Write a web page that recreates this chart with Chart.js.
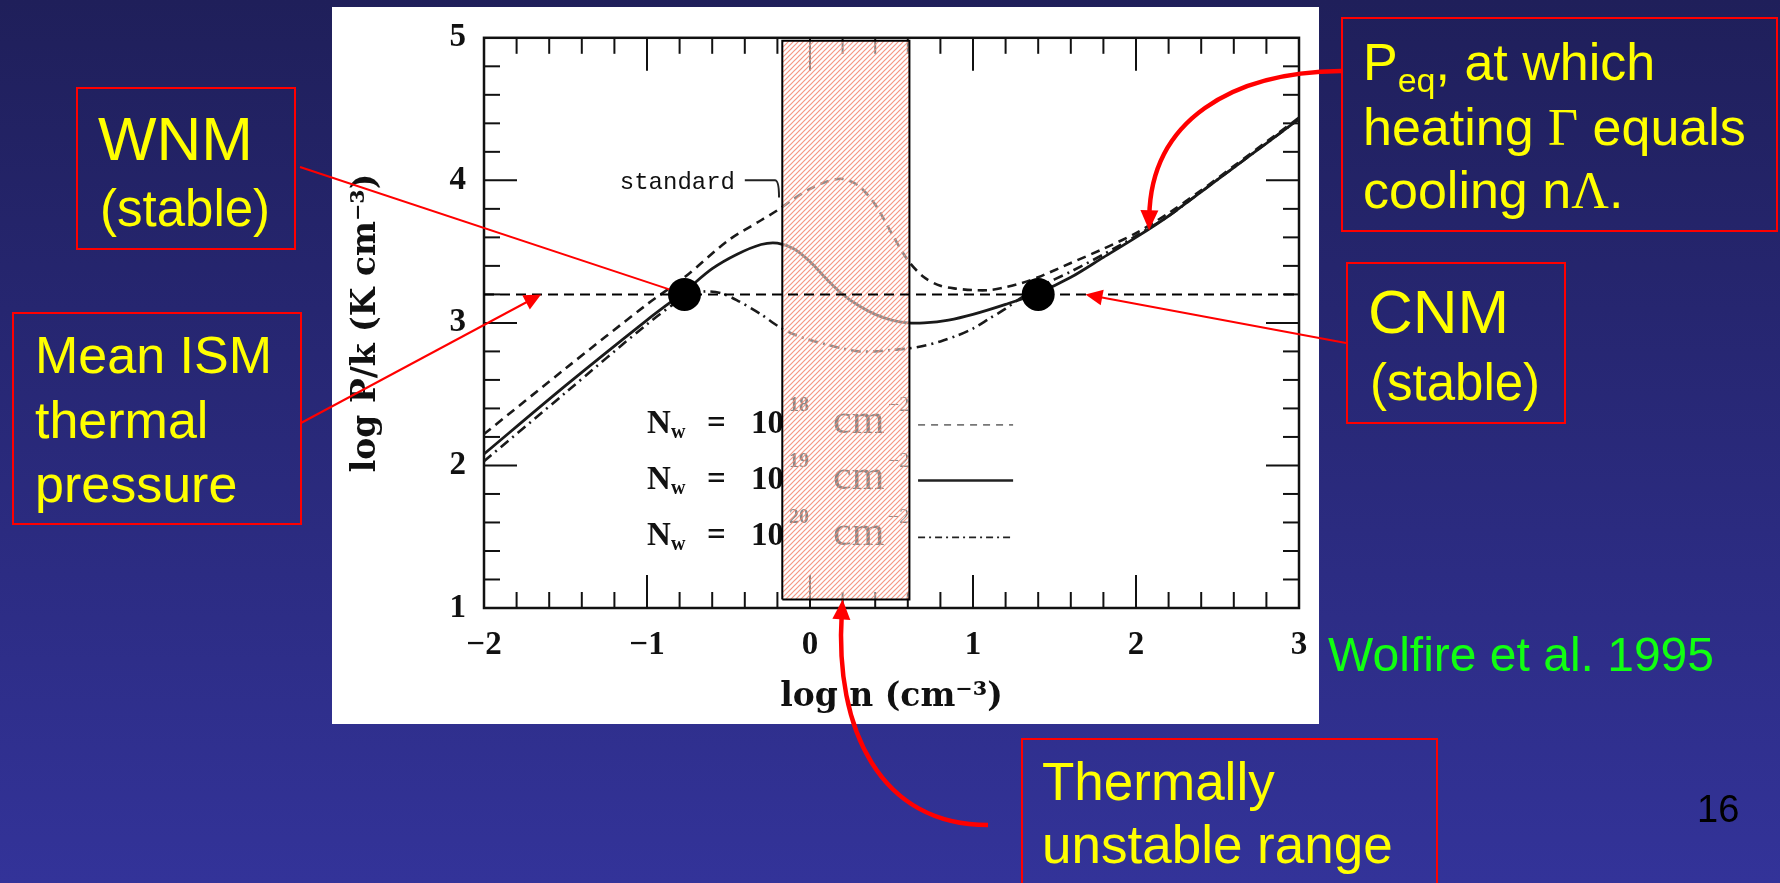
<!DOCTYPE html>
<html>
<head>
<meta charset="utf-8">
<script src="https://cdn.jsdelivr.net/npm/chart.js@4.4.1/dist/chart.umd.min.js"></script>
<style>
html, body { margin: 0; padding: 0; }
body {
    width: 1780px; height: 883px; overflow: hidden; position: relative;
    background: linear-gradient(#1f1f5a, #333399);
    font-family: "Liberation Sans", Arial, sans-serif;
}
#panel { position: absolute; left: 332px; top: 7px; width: 987px; height: 717px; background: #fff; }
#grafico { position: absolute; left: 0; top: 0; }
.box { position: absolute; border: 2px solid #f00; box-sizing: border-box; }
.t { position: absolute; color: #ff0; white-space: nowrap; line-height: 1; }
.gr { font-family: "Liberation Serif", "Times New Roman", serif; }
</style>
</head>
<body>
<div id="panel"></div>
<canvas id="grafico" width="1780" height="883"></canvas>

<div class="box" style="left:76px;top:87px;width:220px;height:163px"></div>
<div class="t" style="left:98px;top:108px;font-size:62px">WNM</div>
<div class="t" style="left:100px;top:183px;font-size:51px">(stable)</div>

<div class="box" style="left:12px;top:312px;width:290px;height:213px"></div>
<div class="t" style="left:35px;top:329px;font-size:52px">Mean ISM</div>
<div class="t" style="left:35px;top:394px;font-size:52px">thermal</div>
<div class="t" style="left:35px;top:458px;font-size:52px">pressure</div>

<div class="box" style="left:1341px;top:17px;width:437px;height:215px"></div>
<div class="t" style="left:1363px;top:36px;font-size:52px">P<span style="font-size:34px;position:relative;top:12px">eq</span>, at which</div>
<div class="t" style="left:1363px;top:101px;font-size:52px">heating <span class="gr">Γ</span> equals</div>
<div class="t" style="left:1363px;top:164px;font-size:52px">cooling n<span class="gr">Λ</span>.</div>

<div class="box" style="left:1346px;top:262px;width:220px;height:162px"></div>
<div class="t" style="left:1368px;top:281px;font-size:62px">CNM</div>
<div class="t" style="left:1370px;top:357px;font-size:51px">(stable)</div>

<div class="box" style="left:1021px;top:738px;width:417px;height:160px"></div>
<div class="t" style="left:1042px;top:755px;font-size:53px">Thermally</div>
<div class="t" style="left:1042px;top:818px;font-size:53px">unstable range</div>

<div class="t" style="left:1328px;top:631px;font-size:48px;color:#1f1">Wolfire et al. 1995</div>
<div class="t" style="left:1697px;top:790px;font-size:38px;color:#000">16</div>

<script>
// eixos
const X_MIN = -2, X_MAX = 3;
const Y_MIN = 1, Y_MAX = 5;

// N_w = 10^19 (linha cheia, "standard")
const solidX = [-2, -1.5, -1, -0.77, -0.6, -0.45, -0.3, -0.2, -0.1, 0, 0.1, 0.2, 0.3, 0.4, 0.5, 0.6, 0.7, 0.85, 1.0, 1.2, 1.4, 1.6, 1.8, 2.0, 2.2, 2.4, 2.6, 2.8, 3.0];
const solidY = [2.08, 2.56, 3.02, 3.22, 3.38, 3.48, 3.55, 3.56, 3.52, 3.43, 3.31, 3.20, 3.12, 3.06, 3.02, 3.00, 3.00, 3.02, 3.06, 3.13, 3.21, 3.32, 3.46, 3.60, 3.75, 3.92, 4.09, 4.26, 4.43];

// N_w = 10^18 (tracejada)
const dashX = [-2, -1.5, -1, -0.77, -0.5, -0.3, -0.2, -0.1, 0, 0.1, 0.2, 0.3, 0.4, 0.5, 0.6, 0.7, 0.8, 0.9, 1.0, 1.1, 1.2, 1.3, 1.4, 1.6, 1.8, 2.0, 2.2, 2.4, 2.6, 2.8, 3.0];
const dashY = [2.22, 2.68, 3.13, 3.32, 3.58, 3.72, 3.79, 3.87, 3.94, 3.99, 4.01, 3.96, 3.83, 3.63, 3.44, 3.32, 3.26, 3.24, 3.23, 3.23, 3.25, 3.28, 3.32, 3.42, 3.52, 3.63, 3.77, 3.93, 4.10, 4.27, 4.44];

// N_w = 10^20 (traço-ponto)
const ddX = [-2, -1.5, -1, -0.77, -0.65, -0.55, -0.45, -0.3, -0.2, -0.1, 0, 0.1, 0.2, 0.3, 0.4, 0.5, 0.6, 0.7, 0.8, 0.9, 1.0, 1.1, 1.2, 1.3, 1.4, 1.6, 1.8, 2.0, 2.2, 2.4, 2.6, 2.8, 3.0];
const ddY = [2.03, 2.51, 2.99, 3.18, 3.22, 3.21, 3.16, 3.06, 2.98, 2.92, 2.88, 2.85, 2.82, 2.80, 2.80, 2.81, 2.82, 2.84, 2.87, 2.91, 2.96, 3.03, 3.10, 3.18, 3.25, 3.36, 3.48, 3.61, 3.75, 3.92, 4.09, 4.26, 4.43];

// pressão média do ISM e os dois pontos estáveis
const meanP = 3.2;
const stableX = [-0.77, 1.4];

// faixa instável (hachurada)
const unstableX = [-0.17, 0.61];
const unstableY = [1.06, 4.98];

// legenda
const legendExp = ['18', '19', '20'];
const legendRowY = [2.229, 1.838, 1.44];

const pts = (xs, ys) => xs.map((x, i) => ({ x: x, y: ys[i] }));

function hachura() {
    const s = 5;
    const c = document.createElement('canvas');
    c.width = s; c.height = s;
    const g = c.getContext('2d');
    g.fillStyle = 'rgba(255,255,255,0.5)';
    g.fillRect(0, 0, s, s);
    g.strokeStyle = 'rgba(244,140,118,0.9)';
    g.lineWidth = 1.2;
    g.beginPath();
    g.moveTo(0, s); g.lineTo(s, 0);
    g.moveTo(-s, s); g.lineTo(s, -s);
    g.moveTo(0, 2 * s); g.lineTo(2 * s, 0);
    g.stroke();
    return g.createPattern(c, 'repeat');
}

const serif = 'Liberation Serif, Times New Roman, serif';

function line(ctx, x1, y1, x2, y2) {
    ctx.beginPath(); ctx.moveTo(x1, y1); ctx.lineTo(x2, y2); ctx.stroke();
}

// moldura, ticks internos, legenda e rótulo "standard"
const molduraPlugin = {
    id: 'moldura',
    beforeDatasetsDraw(chart) {
        const ctx = chart.ctx;
        const xs = chart.scales.x, ys = chart.scales.y;
        const { left, right, top, bottom } = chart.chartArea;
        ctx.save();
        ctx.strokeStyle = '#111';
        ctx.lineWidth = 2;
        for (let k = 1; k < (X_MAX - X_MIN) * 5; k++) {
            const v = X_MIN + k * 0.2;
            const L = k % 5 === 0 ? 33 : 16;
            const px = xs.getPixelForValue(v);
            line(ctx, px, bottom, px, bottom - L);
            line(ctx, px, top, px, top + L);
        }
        for (let k = 1; k < (Y_MAX - Y_MIN) * 5; k++) {
            const v = Y_MIN + k * 0.2;
            const L = k % 5 === 0 ? 33 : 16;
            const py = ys.getPixelForValue(v);
            line(ctx, left, py, left + L, py);
            line(ctx, right, py, right - L, py);
        }
        ctx.lineWidth = 2.5;
        ctx.strokeRect(left, top, right - left, bottom - top);

        // legenda
        const lx = xs.getPixelForValue(-1.0);
        const sx1 = xs.getPixelForValue(0.663), sx2 = xs.getPixelForValue(1.246);
        const dashes = [[7, 6], [], [7, 4, 2, 4]];
        ctx.fillStyle = '#111';
        ctx.textBaseline = 'alphabetic';
        ctx.textAlign = 'left';
        legendExp.forEach((e, i) => {
            const yb = ys.getPixelForValue(legendRowY[i]);
            ctx.font = 'bold 33px ' + serif;
            ctx.fillText('N', lx, yb);
            ctx.fillText('=', lx + 60, yb);
            ctx.fillText('10', lx + 104, yb);
            ctx.font = 'bold 20px ' + serif;
            ctx.fillText('w', lx + 24, yb + 5);
            ctx.fillText(e, lx + 142, yb - 22);
            ctx.font = '42px ' + serif;
            ctx.fillText('cm', lx + 186, yb);
            ctx.font = '20px ' + serif;
            ctx.fillText('−2', lx + 241, yb - 22);

            ctx.setLineDash(dashes[i]);
            ctx.lineWidth = i === 1 ? 2.5 : 1.8;
            ctx.strokeStyle = i === 0 ? '#777' : '#222';
            line(ctx, sx1, yb - 8, sx2, yb - 8);
        });
        ctx.setLineDash([]);

        // rótulo "standard"
        ctx.font = '24px Liberation Mono, Courier New, monospace';
        ctx.textAlign = 'right';
        ctx.fillStyle = '#111';
        const yStd = ys.getPixelForValue(4.0);
        ctx.fillText('standard', xs.getPixelForValue(-0.46), yStd + 9);
        ctx.strokeStyle = '#222';
        ctx.lineWidth = 2;
        ctx.beginPath();
        ctx.moveTo(xs.getPixelForValue(-0.40), yStd);
        ctx.lineTo(xs.getPixelForValue(-0.215), yStd);
        ctx.quadraticCurveTo(xs.getPixelForValue(-0.19), yStd, xs.getPixelForValue(-0.19), ys.getPixelForValue(3.88));
        ctx.stroke();
        ctx.restore();
    }
};

function ponta(ctx, tx, ty, fx, fy, len, half) {
    const a = Math.atan2(ty - fy, tx - fx);
    const c = Math.cos(a), s = Math.sin(a);
    ctx.beginPath();
    ctx.moveTo(tx, ty);
    ctx.lineTo(tx - len * c + half * s, ty - len * s - half * c);
    ctx.lineTo(tx - len * c - half * s, ty - len * s + half * c);
    ctx.closePath();
    ctx.fill();
}

function seta(ctx, x1, y1, x2, y2) {
    const a = Math.atan2(y2 - y1, x2 - x1);
    ctx.lineWidth = 2;
    line(ctx, x1, y1, x2 - 14 * Math.cos(a), y2 - 14 * Math.sin(a));
    ponta(ctx, x2, y2, x1, y1, 17, 8);
}

function curva(ctx, p0, c1, c2, p1) {
    ctx.lineWidth = 4.5;
    const a = Math.atan2(p1[1] - c2[1], p1[0] - c2[0]);
    ctx.beginPath();
    ctx.moveTo(p0[0], p0[1]);
    ctx.bezierCurveTo(c1[0], c1[1], c2[0], c2[1], p1[0] - 14 * Math.cos(a), p1[1] - 14 * Math.sin(a));
    ctx.stroke();
    ponta(ctx, p1[0], p1[1], c2[0], c2[1], 20, 9);
}

// setas vermelhas da apresentação
const setasPlugin = {
    id: 'setas',
    afterDraw(chart) {
        const ctx = chart.ctx;
        const xs = chart.scales.x, ys = chart.scales.y;
        const yMean = ys.getPixelForValue(meanP);
        ctx.save();
        ctx.strokeStyle = '#f00';
        ctx.fillStyle = '#f00';

        // WNM -> ponto
        const wx = xs.getPixelForValue(stableX[0]);
        const a = Math.atan2(yMean - 167, wx - 300);
        ctx.lineWidth = 2;
        line(ctx, 300, 167, wx - 16 * Math.cos(a), yMean - 16 * Math.sin(a));

        // Mean ISM -> linha tracejada
        seta(ctx, 301, 423, xs.getPixelForValue(-1.65), yMean);
        // CNM -> linha tracejada
        seta(ctx, 1346, 343, xs.getPixelForValue(1.69), yMean);

        // P_eq -> curva
        const px = xs.getPixelForValue(2.08), py = ys.getPixelForValue(3.65);
        curva(ctx, [1341, 71], [1232, 72], [px + 2, py - 110], [px, py]);

        // faixa instável
        const tx = xs.getPixelForValue(0.2), ty = ys.getPixelForValue(unstableY[0]);
        curva(ctx, [988, 825], [880, 825], [tx - 8, ty + 130], [tx, ty]);
        ctx.restore();
    }
};

const tickFont = { family: serif, size: 33, weight: 'bold' };
const titleFont = { family: 'DejaVu Serif, serif', size: 33, weight: 'bold' };

const chart = new Chart(document.getElementById('grafico'), {
    type: 'scatter',
    data: {
        datasets: [
            {
                label: 'pontos estáveis',
                data: stableX.map(x => ({ x: x, y: meanP })),
                pointRadius: 16.5,
                pointBackgroundColor: '#000',
                pointBorderWidth: 0,
                showLine: false,
                order: 1
            },
            {
                label: 'P médio',
                data: [{ x: X_MIN, y: meanP }, { x: X_MAX, y: meanP }],
                showLine: true,
                borderColor: '#000',
                borderWidth: 2,
                borderDash: [10, 6],
                pointRadius: 0,
                order: 2
            },
            {
                label: 'instável',
                data: pts(
                    [unstableX[0], unstableX[0], unstableX[1], unstableX[1], unstableX[0]],
                    [unstableY[0], unstableY[1], unstableY[1], unstableY[0], unstableY[0]]
                ),
                showLine: true,
                fill: 'shape',
                backgroundColor: hachura(),
                borderColor: '#000',
                borderWidth: 2,
                pointRadius: 0,
                tension: 0,
                order: 3
            },
            {
                label: '10^18',
                data: pts(dashX, dashY),
                showLine: true,
                borderColor: '#1a1a1a',
                borderWidth: 2.6,
                borderDash: [9, 6],
                pointRadius: 0,
                tension: 0.3,
                order: 5
            },
            {
                label: '10^19',
                data: pts(solidX, solidY),
                showLine: true,
                borderColor: '#1a1a1a',
                borderWidth: 2.8,
                pointRadius: 0,
                tension: 0.3,
                order: 5
            },
            {
                label: '10^20',
                data: pts(ddX, ddY),
                showLine: true,
                borderColor: '#1a1a1a',
                borderWidth: 2.6,
                borderDash: [10, 5, 2, 5],
                pointRadius: 0,
                tension: 0.3,
                order: 5
            }
        ]
    },
    options: {
        responsive: false,
        animation: false,
        events: [],
        layout: { padding: { left: 331, right: 481, top: 35, bottom: 159 } },
        plugins: {
            legend: { display: false },
            tooltip: { enabled: false }
        },
        scales: {
            x: {
                type: 'linear',
                min: X_MIN, max: X_MAX,
                grid: { display: false, drawTicks: false },
                border: { display: false },
                ticks: {
                    stepSize: 1,
                    font: tickFont,
                    color: '#111',
                    padding: 18,
                    maxRotation: 0,
                    callback: v => String(v).replace('-', '−')
                },
                title: {
                    display: true,
                    text: 'log n (cm⁻³)',
                    font: titleFont,
                    color: '#111',
                    padding: { top: 7, bottom: 7 }
                },
                afterFit(scale) { scale.height = 116; }
            },
            y: {
                type: 'linear',
                min: Y_MIN, max: Y_MAX,
                grid: { display: false, drawTicks: false },
                border: { display: false },
                ticks: {
                    stepSize: 1,
                    font: tickFont,
                    color: '#111',
                    padding: 18
                },
                title: {
                    display: true,
                    text: 'log P/k (K cm⁻³)',
                    font: titleFont,
                    color: '#111',
                    padding: { top: 16, bottom: 16 }
                },
                afterFit(scale) { scale.width = 153; }
            }
        }
    },
    plugins: [molduraPlugin, setasPlugin]
});
</script>
</body>
</html>
